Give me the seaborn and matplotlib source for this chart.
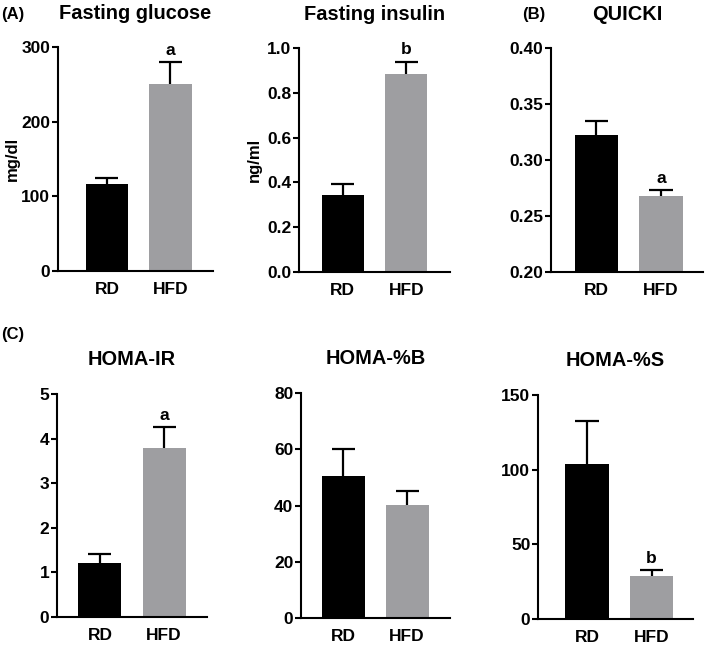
import matplotlib
matplotlib.use("Agg")
import matplotlib.pyplot as plt
import seaborn as sns
import pandas as pd
from matplotlib.ticker import FormatStrFormatter

# Data
groups = ["RD", "HFD"]
titles = ["Fasting glucose", "Fasting insulin", "QUICKI", "HOMA-IR", "HOMA-%B", "HOMA-%S"]
ylabels = ["mg/dl", "ng/ml", "", "", "", ""]
means = [[116, 251], [0.342, 0.883], [0.322, 0.268], [1.22, 3.79], [50.6, 40.1], [104, 28.6]]
errors = [[8, 29], [0.053, 0.056], [0.013, 0.005], [0.20, 0.46], [9.5, 5.2], [28.4, 4.0]]
letters = [["", "a"], ["", "b"], ["", "a"], ["", "a"], ["", ""], ["", "b"]]
yticks = [[0, 100, 200, 300], [0, 0.2, 0.4, 0.6, 0.8, 1.0], [0.20, 0.25, 0.30, 0.35, 0.40],
          [0, 1, 2, 3, 4, 5], [0, 20, 40, 60, 80], [0, 50, 100, 150]]
tick_fmt = [None, "%.1f", "%.2f", None, None, None]

colors = {"RD": "#000000", "HFD": "#9e9da2"}

# axes boxes in pixels: left, right, top, bottom (709 x 648 canvas)
W, H = 709, 648
boxes = [(58, 213, 47, 271), (299, 450, 48, 272), (551, 703, 48, 272),
         (57, 207, 394, 617), (301, 450, 393, 618), (538, 693, 395, 619)]
xlims = [(-0.77, 1.67), (-0.69, 1.69), (-0.70, 1.65), (-0.67, 1.67), (-0.66, 1.67), (-0.76, 1.64)]
ylabel_x = [20, 262]

plt.rcParams['font.family'] = ['Liberation Sans', 'DejaVu Sans']
plt.rcParams['font.weight'] = 'bold'

fig = plt.figure(figsize=(W / 100, H / 100), dpi=100)

for i in range(6):
    l, r, t, b = boxes[i]
    ax = fig.add_axes([l / W, 1 - b / H, (r - l) / W, (b - t) / H])
    df = pd.DataFrame({"group": groups, "value": means[i]})
    sns.barplot(data=df, x="group", y="value", hue="group", palette=colors,
                order=groups, width=0.67, errorbar=None, legend=False, ax=ax,
                edgecolor="none")
    # upward-only SEM bars
    tops = [m + e for m, e in zip(means[i], errors[i])]
    ax.vlines([0, 1], means[i], tops, color="black", linewidth=1.6, zorder=3)
    ax.hlines(tops, [-0.18, 0.82], [0.18, 1.18], color="black", linewidth=1.6, zorder=3)
    for j in range(2):
        if letters[i][j]:
            ax.annotate(letters[i][j], (j, tops[j]),
                        xytext=(0, 3), textcoords="offset points",
                        ha="center", va="bottom", fontsize=12.5, fontweight="bold")
    ax.set_ylim(yticks[i][0], yticks[i][-1])
    ax.set_xlim(*xlims[i])
    ax.set_yticks(yticks[i])
    if tick_fmt[i]:
        ax.yaxis.set_major_formatter(FormatStrFormatter(tick_fmt[i]))
    ax.set_xlabel("")
    ax.set_ylabel(ylabels[i], fontsize=12, fontweight="bold")
    if ylabels[i]:
        ax.yaxis.set_label_coords((ylabel_x[i] - l) / (r - l), 0.5)
    ax.set_title(titles[i], fontsize=14.4, fontweight="bold", pad=20 if i < 3 else 21)
    for s in ["top", "right"]:
        ax.spines[s].set_visible(False)
    for s in ["left", "bottom"]:
        ax.spines[s].set_linewidth(1.5)
    ax.tick_params(axis="y", length=4, width=1.5, labelsize=12.5, pad=1.5)
    ax.tick_params(axis="x", length=0, labelsize=12.5, pad=8)
    for lab in ax.get_xticklabels() + ax.get_yticklabels():
        lab.set_fontweight("bold")

fig.text(1 / W, 1 - 14 / H, "(A)", fontsize=12, fontweight="bold", va="center")
fig.text(522 / W, 1 - 14 / H, "(B)", fontsize=12, fontweight="bold", va="center")
fig.text(1 / W, 1 - 335 / H, "(C)", fontsize=12, fontweight="bold", va="center")

plt.savefig("out.png", dpi=100)
